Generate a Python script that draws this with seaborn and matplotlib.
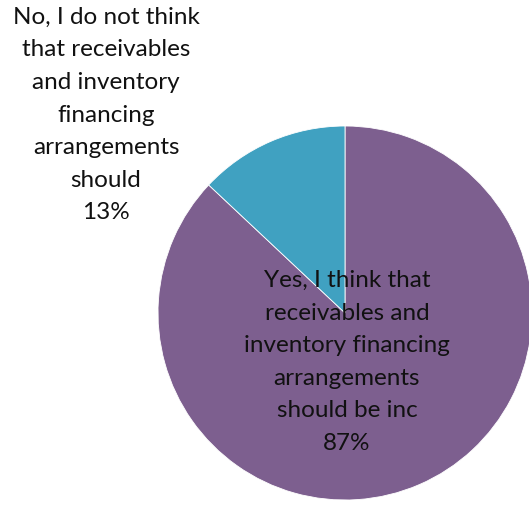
import matplotlib
matplotlib.use("Agg")
import matplotlib.pyplot as plt
import seaborn as sns

categories = ["Yes, I think that\nreceivables and\ninventory financing\narrangements\nshould be inc",
              "No, I do not think\nthat receivables\nand inventory\nfinancing\narrangements\nshould"]
values = [87, 13]
colors = ["#7D5F8F", "#40A1C1"]

sns.set_theme(style="white")
plt.rcParams['font.family'] = ['Lato', 'DejaVu Sans']

W, H = 529, 505
fig = plt.figure(figsize=(W / 100, H / 100), dpi=100)
cx, cy, r = 345, 313, 187
ax = fig.add_axes([(cx - r) / W, 1 - (cy + r) / H, 2 * r / W, 2 * r / H])
ax.pie(values, colors=colors, startangle=90, counterclock=False,
       wedgeprops=dict(edgecolor="white", linewidth=0.6), radius=1)
ax.set_xlim(-1, 1)
ax.set_ylim(-1, 1)
ax.set_aspect("equal")
ax.axis("off")

label_pos = [(347, 362), (106, 115)]
for cat, val, (x, y) in zip(categories, values, label_pos):
    fig.text(x / W, 1 - y / H, f"{cat}\n{val}%", ha="center", va="center",
             fontsize=17.5, color="#111111", linespacing=1.68)

fig.savefig("out.png", dpi=100)
